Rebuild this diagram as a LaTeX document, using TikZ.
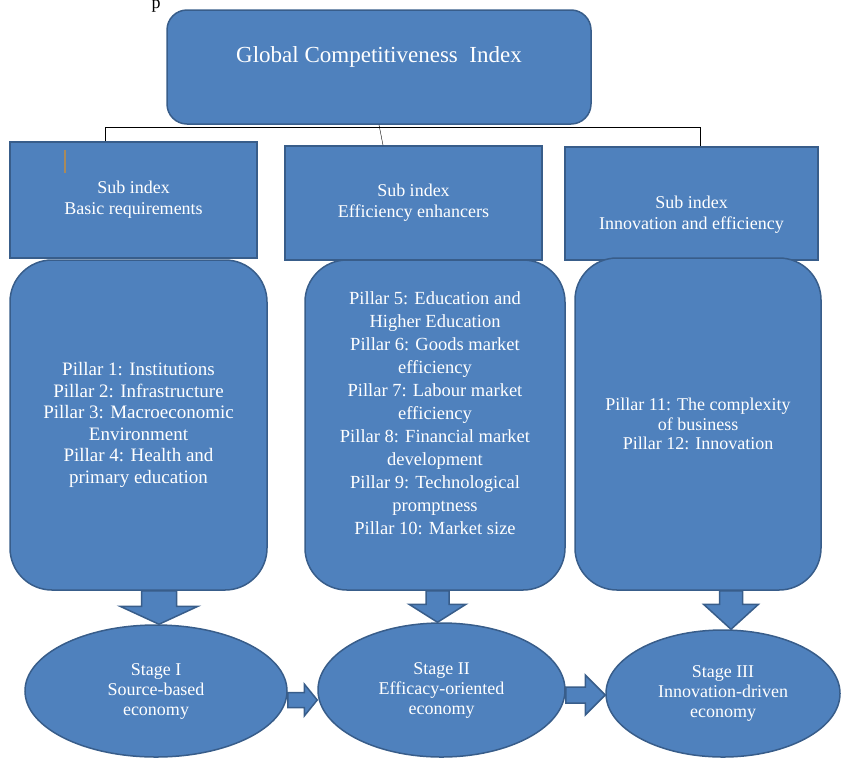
\documentclass[tikz,border=0pt]{standalone}
\usepackage{fontspec}
\setmainfont{Liberation Serif}
\usepackage{tikz}
\usetikzlibrary{calc,shapes.geometric}

\definecolor{boxblue}{HTML}{4F81BD}
\definecolor{boxedge}{HTML}{385D8A}
\definecolor{cursortan}{HTML}{A88A5C}

\newcommand\sifont{\fontsize{18}{21}\selectfont}
% fat arrow pointing down: #1 tail (y used), #2 tip, #3 shaft half width, #4 head half width, #5 head length
\newcommand\blockdown[5]{%
  \draw[blockarrow] let \p1=(#1), \p2=(#2) in
    (\x2-#3pt,\y1) -- (\x2-#3pt,\y2+#5pt) -- (\x2-#4pt,\y2+#5pt) -- (\x2,\y2)
    -- (\x2+#4pt,\y2+#5pt) -- (\x2+#3pt,\y2+#5pt) -- (\x2+#3pt,\y1) -- cycle;}
% fat arrow pointing right, same arguments
\newcommand\blockright[5]{%
  \draw[blockarrow] let \p1=(#1), \p2=(#2) in
    (\x1,\y2+#3pt) -- (\x2-#5pt,\y2+#3pt) -- (\x2-#5pt,\y2+#4pt) -- (\x2,\y2)
    -- (\x2-#5pt,\y2-#4pt) -- (\x2-#5pt,\y2-#3pt) -- (\x1,\y2-#3pt) -- cycle;}

\begin{document}
\begin{tikzpicture}[x=1pt,y=-1pt,
    box/.style={draw=boxedge,fill=boxblue,line width=1.5pt,text=white,align=center,inner sep=0pt},
    txt/.style={text=white,align=center,inner sep=0pt},
    blockarrow/.style={draw=boxedge,fill=boxblue,line width=1.5pt,line join=miter}]
  \useasboundingbox (0,0) rectangle (842,758);

  \node[font=\fontsize{18}{20}\selectfont,anchor=base,inner sep=0pt] (pfrag) at (156,8) {p};

  % index on top
  \node[box,rounded corners=20pt,minimum width=424pt,minimum height=114pt,text depth=24pt,
        font=\fontsize{23}{27}\selectfont] (gci) at (379,67) {Global Competitiveness\ \ Index};

  % sub indices
  \node[box,minimum width=247pt,minimum height=116pt,font=\sifont] (subA) at (133.5,200) {Sub index\\Basic requirements};
  \node[box,minimum width=257pt,minimum height=114pt,font=\sifont] (subB) at (413.5,203) {Sub index\\Efficiency enhancers};
  \node[box,minimum width=253pt,minimum height=113pt] (subC) at (691.5,203.5) {};
  \node[txt,font=\sifont] (subCtext) at ([yshift=-11pt]subC.center) {Sub index\\Innovation and efficiency};
  \draw[cursortan,line width=1.2pt] (65,150) -- (65,173);

  \draw (gci.south) -- ([xshift=4pt]gci.south |- subB.north);
  \draw ([xshift=-28.5pt]subA.north) -- ++(0,-14) -| ([xshift=8.5pt]subC.north);

  % pillars
  \node[box,rounded corners=42pt,minimum width=257pt,minimum height=330pt,
        font=\fontsize{19}{21.6}\selectfont] (pilA) at (138.5,425)
    {Pillar 1: Institutions\\Pillar 2: Infrastructure\\Pillar 3: Macroeconomic\\Environment\\Pillar 4: Health and\\primary education};
  \node[box,rounded corners=42pt,minimum width=260pt,minimum height=330pt] (pilB) at (435,425) {};
  \node[txt,font=\fontsize{18.5}{23}\selectfont] (pilBtext) at ([yshift=12pt]pilB.center)
    {Pillar 5: Education and\\Higher Education\\Pillar 6: Goods market\\efficiency\\Pillar 7: Labour market\\efficiency\\
     Pillar 8: Financial market\\development\\Pillar 9: Technological\\promptness\\Pillar 10: Market size};
  \node[box,rounded corners=42pt,minimum width=246pt,minimum height=332pt,
        font=\fontsize{18}{19.5}\selectfont] (pilC) at (698,424)
    {Pillar 11: The complexity\\of business\\Pillar 12: Innovation};

  % stages
  \node[box,ellipse,minimum width=262pt,minimum height=132pt,font=\fontsize{18}{20}\selectfont] (stageA) at (156,691) {Stage I\\Source-based\\economy};
  \node[box,ellipse,minimum width=247pt,minimum height=134pt,font=\fontsize{18}{20}\selectfont] (stageB) at (441.5,690) {Stage II\\Efficacy-oriented\\economy};
  \node[box,ellipse,minimum width=234pt,minimum height=127pt,font=\fontsize{18}{20}\selectfont] (stageC) at (723,693.5) {Stage III\\Innovation-driven\\economy};

  \blockdown{pilA.south}{[xshift=3pt]stageA.north}{17.5}{39}{18}
  \blockdown{pilB.south}{[xshift=-4pt]stageB.north}{11.5}{28.5}{18}
  \blockdown{pilC.south}{[xshift=8pt]stageC.north}{11.5}{27.5}{25}
  \blockright{stageA.east}{[yshift=-10pt]stageB.west}{7.5}{16}{13}
  \blockright{stageB.east}{[yshift=-1.5pt]stageC.west}{8}{20}{20}
\end{tikzpicture}
\end{document}
